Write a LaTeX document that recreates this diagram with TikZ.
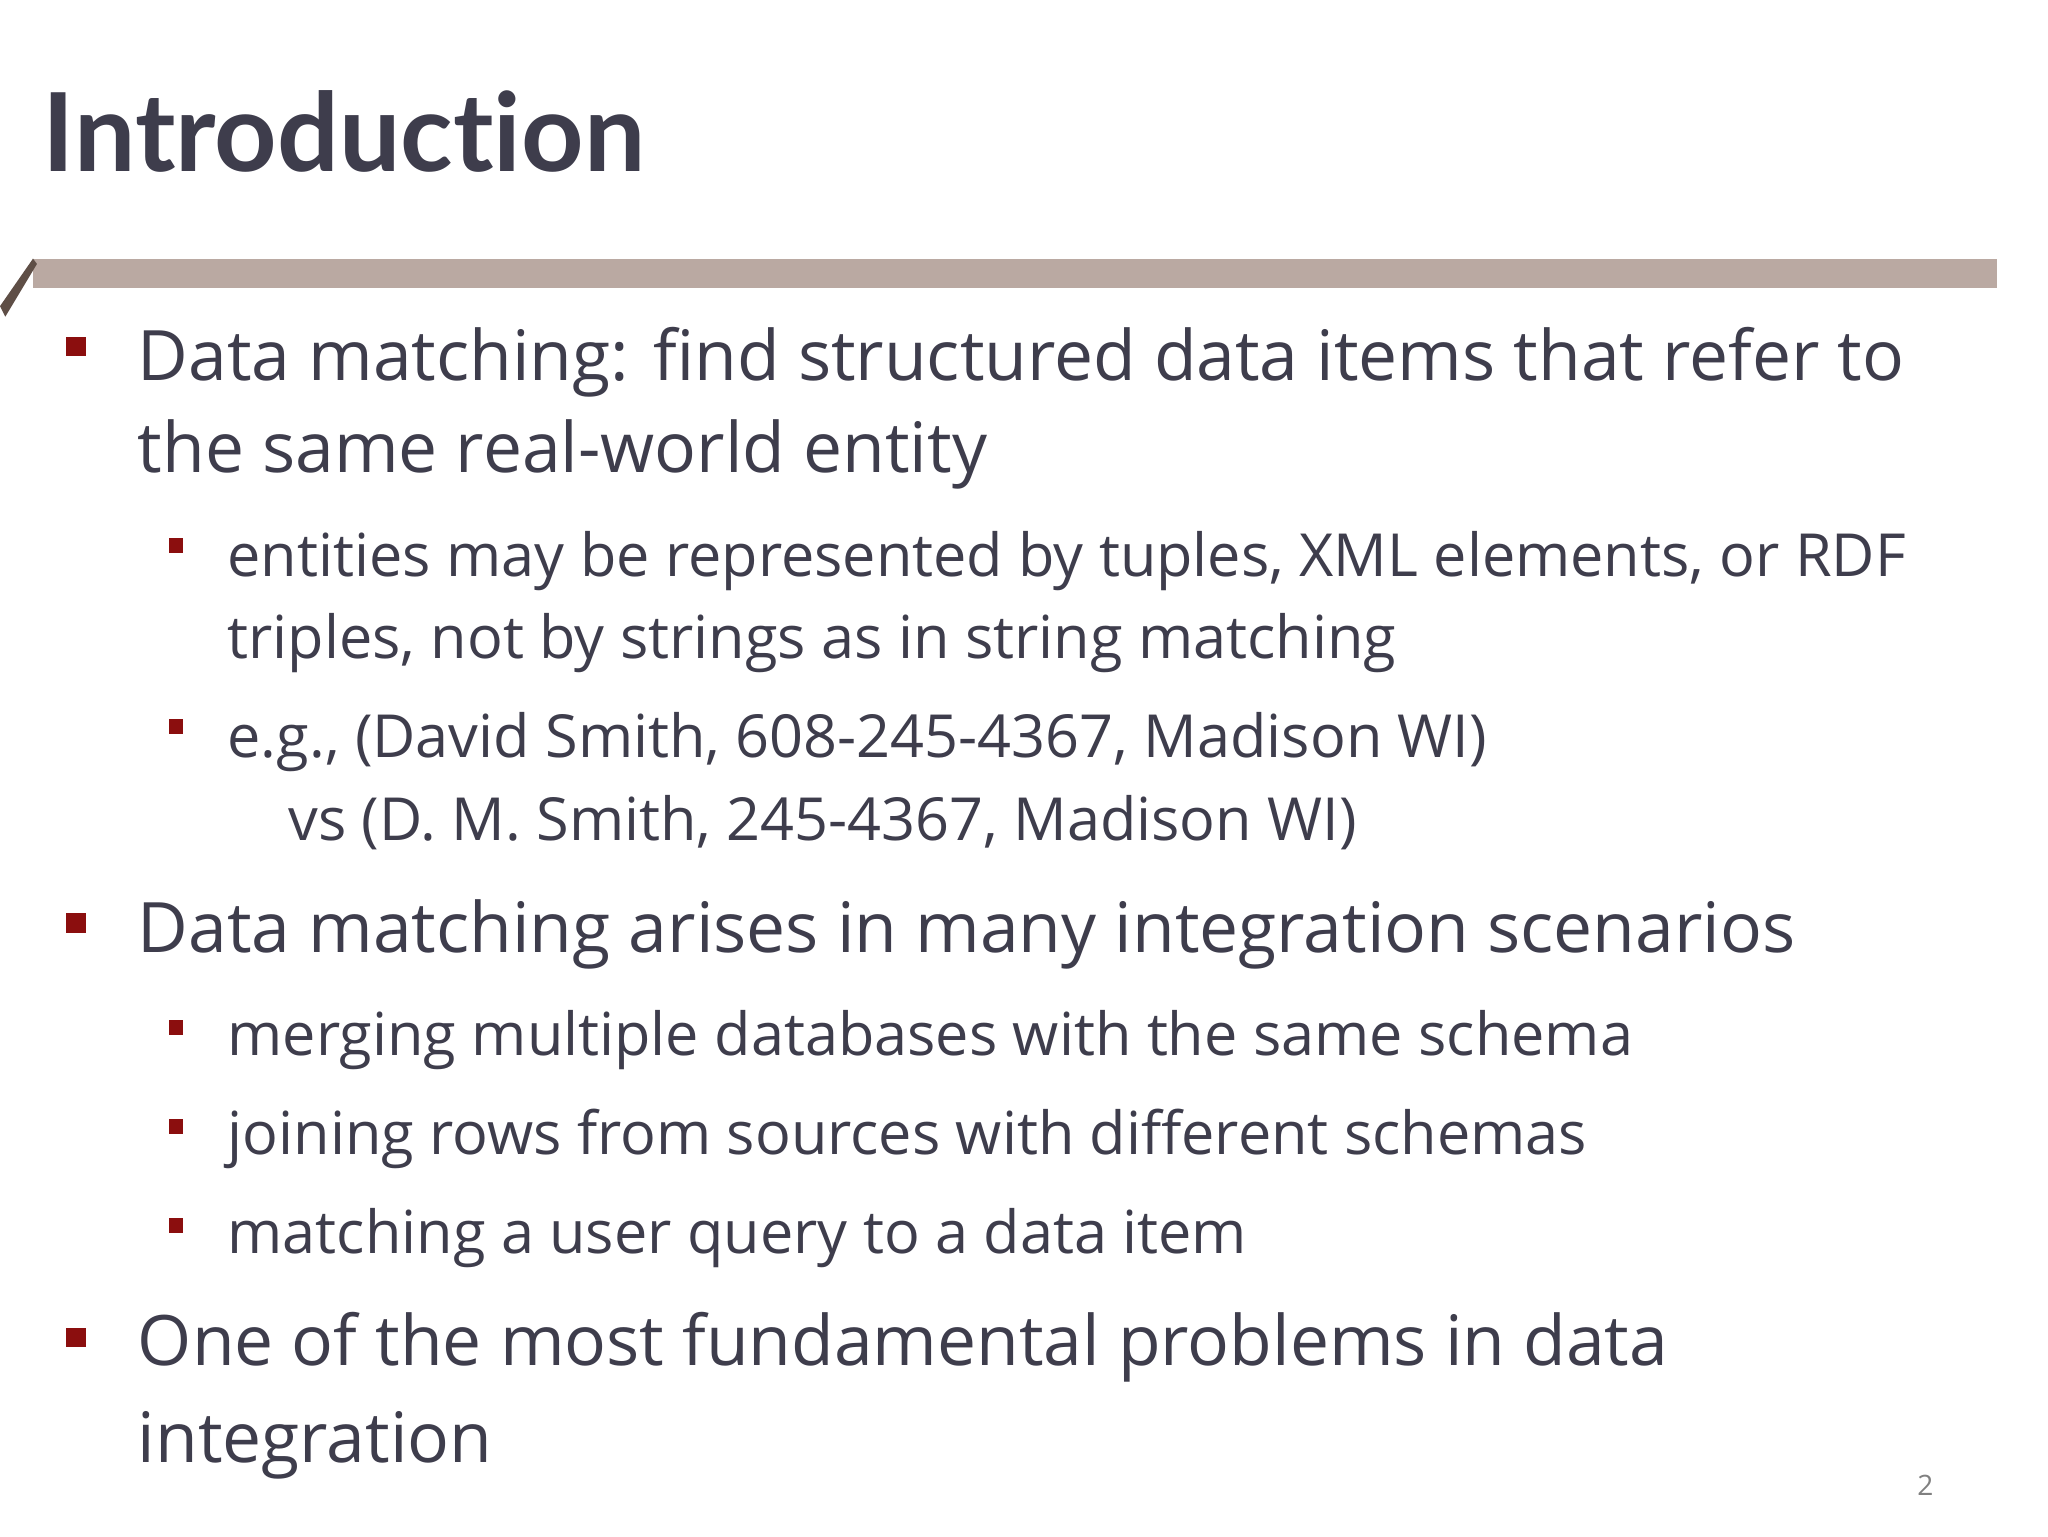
\documentclass[tikz,border=0pt]{standalone}
\usepackage{fontspec}
\setmainfont{Open Sans}
\newfontfamily\titlefont[Ligatures={NoCommon,NoDiscretionary,NoRare}]{Lato}
\definecolor{txt}{HTML}{3E3D4C}
\definecolor{bul}{HTML}{8B0E0E}
\definecolor{barc}{HTML}{BAA9A2}
\definecolor{slant}{HTML}{5E4E46}
\begin{document}
\begin{tikzpicture}[x=0.013196cm,y=-0.013196cm,
  main/.style={anchor=base west,inner sep=0,text=txt,font=\fontsize{19.8}{24}\selectfont},
  sub/.style={anchor=base west,inner sep=0,text=txt,font=\fontsize{16.9}{20}\selectfont}]
\useasboundingbox (0,0) rectangle (1552,1164);
\fill[white] (0,0) rectangle (1552,1164);
\node[anchor=base west,inner sep=0,text=txt,font=\titlefont\bfseries\fontsize{31}{36}\selectfont] (title) at (32,130) {Introduction};
\fill[barc] (25,196) rectangle (1513,218);
\fill[slant] (0,232) -- (25,196) -- (28,200) -- (4,240) -- cycle;
\foreach \y in {255,692,1006} \fill[bul] (50,\y) rectangle ++(15,15);
\foreach \y in {408,545,773,848,923} \fill[bul] (128,\y) rectangle ++(11,11);
\node[main] (m1) at (104,288) {Data matching: find structured data items that refer to};
\node[main] (m1b) at (104,358) {the same real-world entity};
\node[sub] (s1) at (172,437) {entities may be represented by tuples, XML elements, or RDF};
\node[sub] (s1b) at (172,499) {triples, not by strings as in string matching};
\node[sub] (s2) at (172,574) {e.g., (David Smith, 608-245-4367, Madison WI)};
\node[sub] (s2b) at (218,637) {vs (D. M. Smith, 245-4367, Madison WI)};
\node[main] (m2) at (104,722) {Data matching arises in many integration scenarios};
\node[sub] (s3) at (172,800) {merging multiple databases with the same schema};
\node[sub] (s4) at (172,875) {joining rows from sources with different schemas};
\node[sub] (s5) at (172,950) {matching a user query to a data item};
\node[main] (m3) at (104,1035) {One of the most fundamental problems in data};
\node[main] (m3b) at (104,1108) {integration};
\node[anchor=base,inner sep=0,text=gray,font=\fontsize{8}{10}\selectfont] (pg) at (1459,1133) {2};
\end{tikzpicture}
\end{document}
